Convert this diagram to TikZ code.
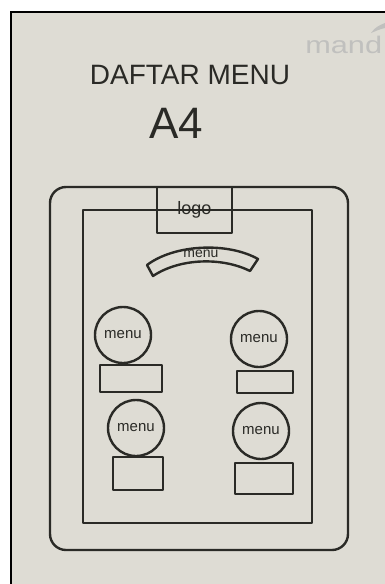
\documentclass[tikz,border=0pt]{standalone}
\usepackage{fontspec}
\setmainfont{Liberation Sans}
\usepackage{xcolor}
\definecolor{paper}{RGB}{222, 220, 212}
\definecolor{pencil}{RGB}{42, 42, 38}
\definecolor{watermark}{RGB}{192, 192, 190}
\usepackage{tikz}
\usetikzlibrary{positioning}

\begin{document}
\begin{tikzpicture}[
    x=1pt, y=-1pt,
    sketch/.style={draw=pencil, line width=2.4pt, line join=round, line cap=round},
    frame/.style={sketch, rectangle, inner sep=0pt},
    device/.style={frame, rounded corners=16pt, minimum width=298pt, minimum height=363pt},
    screen/.style={frame, minimum width=229pt, minimum height=313pt},
    logobox/.style={frame, minimum width=75pt, minimum height=46pt, font=\fontsize{18}{18}\selectfont, text=pencil},
    dish/.style={sketch, circle, minimum size=56pt, inner sep=0pt, font=\fontsize{15}{15}\selectfont, text=pencil},
    pricebox/.style={frame},
    handtext/.style={text=pencil, inner sep=0pt}
]
\useasboundingbox (0,0) rectangle (385,584);

% Paper and photo frame
\fill[white] (0,0) rectangle (385,584);
\fill[paper] (11,12) rectangle (385,584);
\draw[black, line width=2.6pt] (11,584) -- (11,12) -- (385,12);
\node[anchor=base west, text=watermark, inner sep=0pt, xscale=1.28, font=\fontsize{24}{24}\selectfont] (brand) at (305,53) {mand};
\fill[watermark] (371,33) .. controls (375,27) and (380,25) .. (385,23) -- (385,28) .. controls (380,29) and (376,31) .. cycle;

% Title
\node[handtext, font=\fontsize{28}{28}\selectfont] (title) at (190,75) {DAFTAR MENU};
\node[handtext, font=\fontsize{44}{44}\selectfont] (size) at (176,123) {A4};

% Device
\node (phone) [device] at (199,368.5) {};
\node (display) [screen] at (197.5,366.5) {};
\node (logo) [logobox] at (194.5,210) {logo};

% Menu banner
\draw[sketch] (147,265) .. controls (175,244) and (228,242) .. (258,259)
    -- (250,271) .. controls (222,257) and (180,258) .. (153,276) -- cycle;
\node[handtext, font=\fontsize{14}{14}\selectfont] (banner) at (201,254) {menu};

% Menu items
\node (d1) [dish] at (123,335) {menu};
\node (d2) [dish] at (259,339) {menu};
\node (d3) [dish] at (136,428) {menu};
\node (d4) [dish] at (261,431) {menu};

\node (p1) [pricebox, minimum width=62pt, minimum height=27pt] at (131,378.5) {};
\node (p2) [pricebox, minimum width=56pt, minimum height=22pt] at (265,382) {};
\node (p3) [pricebox, minimum width=50pt, minimum height=33pt] at (138,473.5) {};
\node (p4) [pricebox, minimum width=58pt, minimum height=31pt] at (264,478.5) {};

\end{tikzpicture}
\end{document}
